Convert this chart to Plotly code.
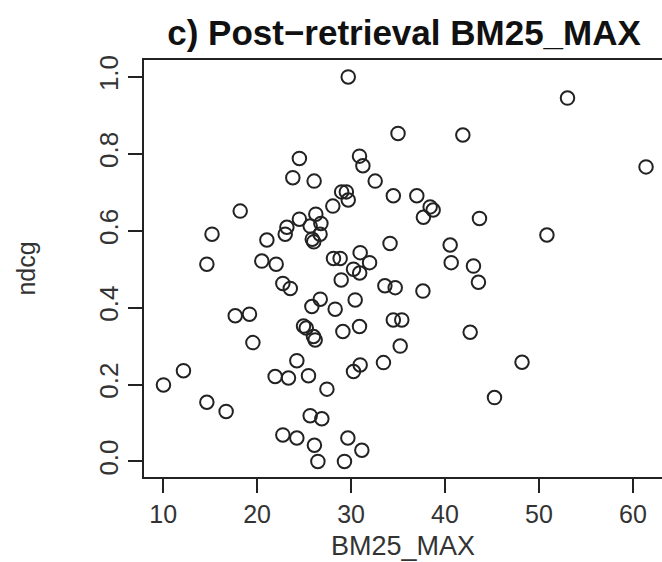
import plotly.graph_objects as go

bm25_max = [
    29.7, 53.04, 35.0, 41.9, 24.5, 30.9, 31.26, 61.4, 23.8, 26.07,
    32.57, 34.5, 37.0, 29.0, 29.5, 29.7, 28.06, 38.42, 38.74, 18.2,
    26.25, 24.5, 37.7, 43.67, 26.79, 25.65, 23.17, 22.99, 15.2, 26.7,
    50.85, 25.87, 26.03, 21.04, 34.15, 40.55, 28.13, 28.84, 30.97, 31.97,
    20.5, 14.65, 22.03, 40.66, 43.03, 30.26, 30.92, 28.95, 43.56, 22.74,
    23.53, 33.6, 34.7, 37.65, 26.72, 30.44, 25.83, 28.31, 17.67, 19.19,
    34.5, 35.4, 24.94, 25.23, 30.9, 29.13, 42.68, 26.0, 26.18, 19.55,
    35.23, 24.23, 33.45, 48.2, 30.97, 30.26, 12.16, 23.34, 21.92, 25.47,
    10.03, 27.43, 45.27, 14.65, 16.7, 25.65, 26.89, 22.74, 24.23, 29.66,
    26.1, 31.15, 26.47, 29.3,
]
ndcg = [
    1.00, 0.945, 0.853, 0.849, 0.788, 0.794, 0.769, 0.766, 0.738, 0.729,
    0.729, 0.691, 0.691, 0.701, 0.701, 0.680, 0.664, 0.662, 0.654, 0.651,
    0.643, 0.630, 0.635, 0.632, 0.619, 0.612, 0.609, 0.591, 0.591, 0.591,
    0.589, 0.578, 0.571, 0.576, 0.567, 0.563, 0.528, 0.528, 0.543, 0.517,
    0.521, 0.513, 0.513, 0.517, 0.508, 0.500, 0.490, 0.472, 0.466, 0.463,
    0.450, 0.457, 0.452, 0.443, 0.422, 0.420, 0.403, 0.396, 0.379, 0.383,
    0.368, 0.368, 0.352, 0.347, 0.351, 0.338, 0.336, 0.325, 0.316, 0.309,
    0.300, 0.262, 0.257, 0.258, 0.251, 0.234, 0.236, 0.217, 0.221, 0.223,
    0.199, 0.188, 0.166, 0.154, 0.130, 0.119, 0.111, 0.069, 0.061, 0.061,
    0.042, 0.029, 0.000, 0.000,
]
x_ticks = [10, 20, 30, 40, 50, 60]
y_ticks = [0.0, 0.2, 0.4, 0.6, 0.8, 1.0]
y_tick_text = ["0.0", "0.2", "0.4", "0.6", "0.8", "1.0"]

FONT = "Liberation Sans, Arial, sans-serif"
INK = "#222222"

fig = go.Figure(
    go.Scatter(
        x=bm25_max,
        y=ndcg,
        mode="markers",
        marker=dict(symbol="circle-open", size=13.5, color=INK, line=dict(width=2, color=INK)),
        showlegend=False,
    )
)

fig.update_layout(
    width=662,
    height=562,
    margin=dict(l=144, r=0, t=60, b=85),
    paper_bgcolor="white",
    plot_bgcolor="white",
    font=dict(family=FONT, color=INK),
    title=dict(
        text="<b>c) Post\u2212retrieval BM25_MAX</b>",
        font=dict(family=FONT, size=35, color="#111111"),
        x=0.502,
        xref="paper",
        xanchor="center",
        y=1 - 33 / 562,
        yref="container",
        yanchor="middle",
    ),
    xaxis=dict(
        range=[7.96, 63.1],
        tickvals=x_ticks,
        ticktext=[str(v) for v in x_ticks],
        ticks="outside",
        ticklen=14,
        tickwidth=1.5,
        tickcolor=INK,
        showline=True,
        linecolor=INK,
        linewidth=1.5,
        mirror=True,
        showgrid=False,
        zeroline=False,
        tickfont=dict(family=FONT, size=25, color="#333333"),
        title=dict(text="BM25_MAX", font=dict(family=FONT, size=27, color="#333333"), standoff=9),
    ),
    yaxis=dict(
        range=[-0.0405, 1.044],
        tickvals=y_ticks,
        ticktext=y_tick_text,
        tickangle=-90,
        ticks="outside",
        ticklen=14,
        tickwidth=1.5,
        tickcolor=INK,
        showline=True,
        linecolor=INK,
        linewidth=1.5,
        mirror=False,
        showgrid=False,
        zeroline=False,
        tickfont=dict(family=FONT, size=26, color="#333333"),
        title=dict(text="ndcg", font=dict(family=FONT, size=25, color="#333333"), standoff=51),
    ),
)

fig.write_html("out.html")
